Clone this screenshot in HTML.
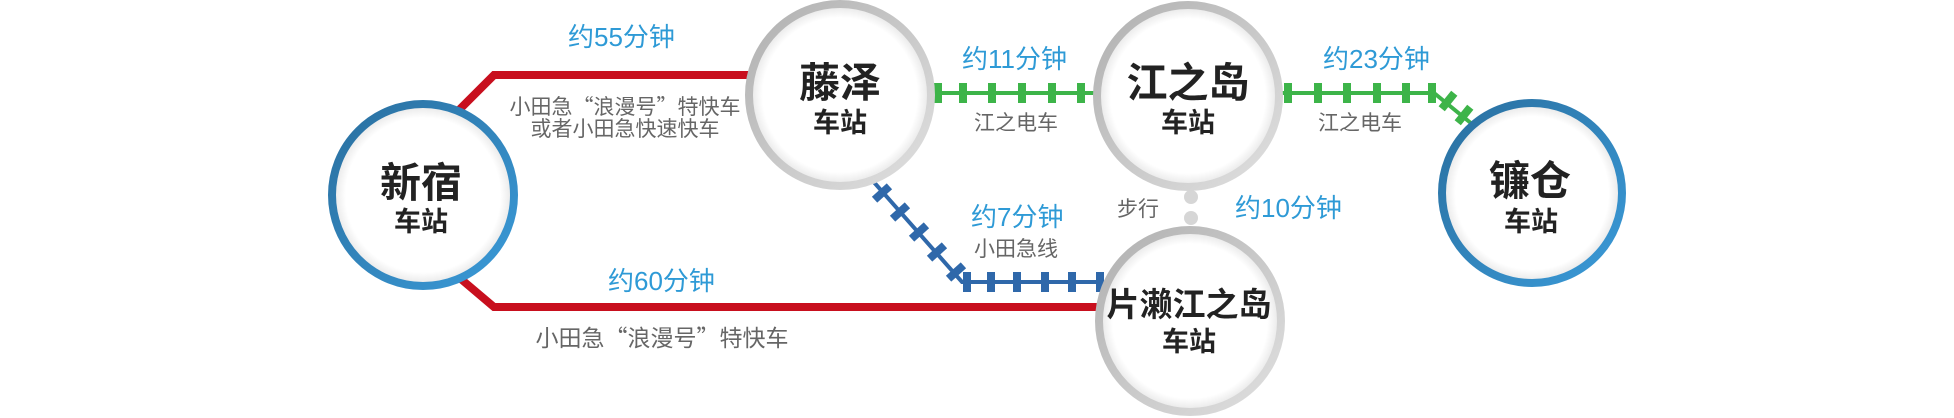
<!DOCTYPE html>
<html><head><meta charset="utf-8"><style>
html,body{margin:0;padding:0;background:#fff;}
svg{display:block;}
text{font-family:"Liberation Sans","Noto Sans CJK SC",sans-serif;}
.b{fill:#2e9ad6;font-size:26px;}
.g{fill:#666;font-size:21px;}
.n{fill:#222;font-weight:bold;text-anchor:middle;}
.q{font-family:"Noto Sans CJK SC",sans-serif;}
</style></head><body>
<svg width="1954" height="418" viewBox="0 0 1954 418" xmlns="http://www.w3.org/2000/svg">
<defs>
<radialGradient id="inner" cx="50%" cy="50%" r="50%">
<stop offset="0.85" stop-color="#fff"/><stop offset="1" stop-color="#e4e4e4"/>
</radialGradient>
<linearGradient id="gray" x1="0" y1="0" x2="1" y2="1">
<stop offset="0" stop-color="#b0b0b0"/><stop offset="1" stop-color="#e0e0e0"/>
</linearGradient>
<linearGradient id="blue" x1="0" y1="0" x2="1" y2="1">
<stop offset="0" stop-color="#2a6f9f"/><stop offset="1" stop-color="#3a9ad8"/>
</linearGradient>
</defs>
<polyline points="455,114 494,75 760,75" fill="none" stroke="#c80f1e" stroke-width="8"/>
<polyline points="455,274 494,307 1100,307" fill="none" stroke="#c80f1e" stroke-width="8"/>
<line x1="930" y1="93" x2="1100" y2="93" stroke="#3db449" stroke-width="4"/>
<g fill="#3db449">
<rect x="934" y="83" width="8" height="20"/><rect x="959" y="83" width="8" height="20"/><rect x="988" y="83" width="8" height="20"/><rect x="1018" y="83" width="8" height="20"/><rect x="1048" y="83" width="8" height="20"/><rect x="1077" y="83" width="8" height="20"/>
</g>
<polyline points="1280,93 1434,93 1472,124" fill="none" stroke="#3db449" stroke-width="4"/>
<g fill="#3db449">
<rect x="1284" y="83" width="8" height="20"/><rect x="1314" y="83" width="8" height="20"/><rect x="1343" y="83" width="8" height="20"/><rect x="1373" y="83" width="8" height="20"/><rect x="1402" y="83" width="8" height="20"/><rect x="1428" y="83" width="8" height="20"/>
<rect x="-4" y="-10" width="8" height="20" transform="translate(1448,101) rotate(39)"/>
<rect x="-4" y="-10" width="8" height="20" transform="translate(1464,115) rotate(39)"/>
</g>
<polyline points="872,180 962,282 1100,282" fill="none" stroke="#2f68aa" stroke-width="4"/>
<g fill="#2f68aa">
<rect x="963" y="272" width="8" height="20"/><rect x="987" y="272" width="8" height="20"/><rect x="1013" y="272" width="8" height="20"/><rect x="1041" y="272" width="8" height="20"/><rect x="1068" y="272" width="8" height="20"/><rect x="1096" y="272" width="8" height="20"/>
<rect x="-4" y="-10" width="8" height="20" transform="translate(882,193) rotate(48)"/>
<rect x="-4" y="-10" width="8" height="20" transform="translate(900,212) rotate(48)"/>
<rect x="-4" y="-10" width="8" height="20" transform="translate(919,232) rotate(48)"/>
<rect x="-4" y="-10" width="8" height="20" transform="translate(937,252) rotate(48)"/>
<rect x="-4" y="-10" width="8" height="20" transform="translate(956,272) rotate(48)"/>
</g>
<circle cx="1191" cy="197" r="7" fill="#d6d6d6"/>
<circle cx="1191" cy="218" r="7" fill="#d6d6d6"/>
<circle cx="423" cy="195" r="91" fill="url(#inner)" stroke="url(#blue)" stroke-width="8"/>
<circle cx="840" cy="95" r="91" fill="url(#inner)" stroke="url(#gray)" stroke-width="8"/>
<circle cx="1188" cy="96" r="91" fill="url(#inner)" stroke="url(#gray)" stroke-width="8"/>
<circle cx="1190" cy="321" r="91" fill="url(#inner)" stroke="url(#gray)" stroke-width="8"/>
<circle cx="1532" cy="193" r="90" fill="url(#inner)" stroke="url(#blue)" stroke-width="8"/>
<text class="n" x="421" y="197" font-size="41">新宿</text>
<text class="n" x="421" y="231" font-size="27">车站</text>
<text class="n" x="840" y="97" font-size="41">藤泽</text>
<text class="n" x="840" y="132" font-size="27">车站</text>
<text class="n" x="1188" y="97" font-size="41">江之岛</text>
<text class="n" x="1188" y="132" font-size="27">车站</text>
<text class="n" x="1189" y="316" font-size="33">片濑江之岛</text>
<text class="n" x="1189" y="351" font-size="27">车站</text>
<text class="n" x="1530" y="195" font-size="41">镰仓</text>
<text class="n" x="1531" y="231" font-size="27">车站</text>
<text class="b" x="568" y="46">约55分钟</text>
<text class="g" x="625" y="114" text-anchor="middle">小田急<tspan class="q">“</tspan>浪漫号<tspan class="q">”</tspan>特快车</text>
<text class="g" x="625" y="136" text-anchor="middle">或者小田急快速快车</text>
<text class="b" x="608" y="290">约60分钟</text>
<text class="g" x="662" y="346" text-anchor="middle" style="font-size:23px">小田急<tspan class="q">“</tspan>浪漫号<tspan class="q">”</tspan>特快车</text>
<text class="b" x="962" y="68">约11分钟</text>
<text class="g" x="1016" y="130" text-anchor="middle">江之电车</text>
<text class="b" x="1323" y="68">约23分钟</text>
<text class="g" x="1360" y="130" text-anchor="middle">江之电车</text>
<text class="g" x="1138" y="216" text-anchor="middle">步行</text>
<text class="b" x="1235" y="217">约10分钟</text>
<text class="b" x="971" y="226">约7分钟</text>
<text class="g" x="1016" y="256" text-anchor="middle">小田急线</text>
</svg>
</body></html>
